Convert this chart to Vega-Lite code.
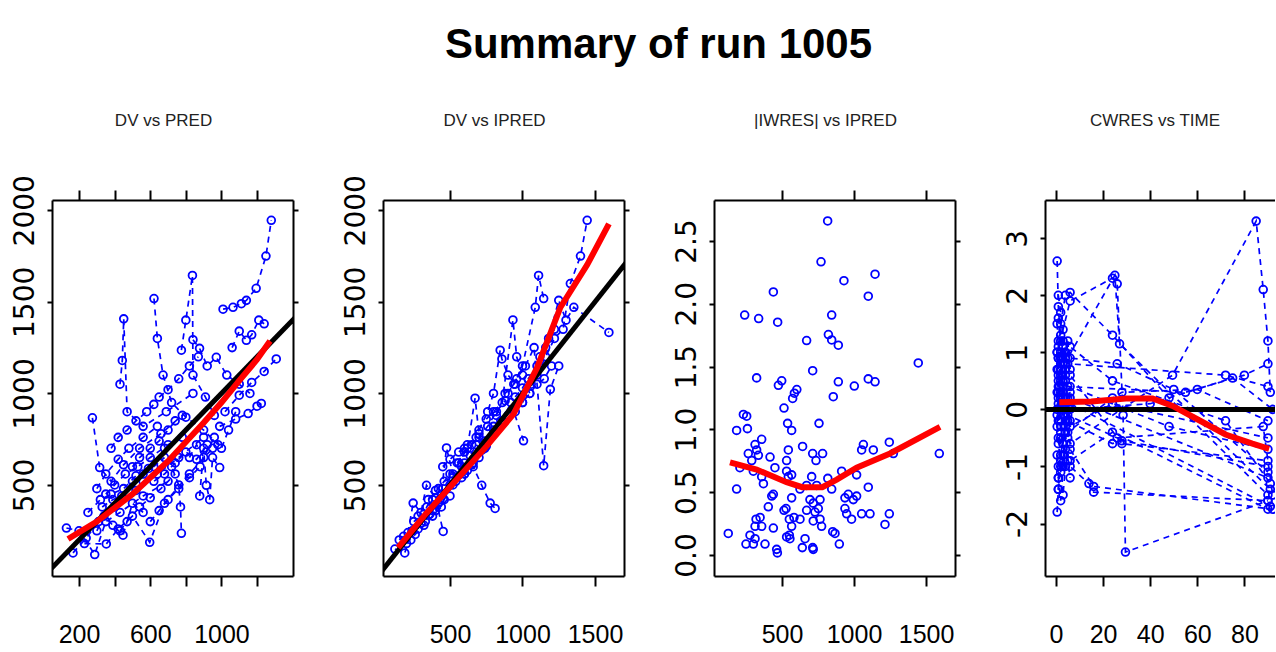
{
"$schema": "https://vega.github.io/schema/vega-lite/v6.json",
"background": "white",
"autosize": {"type": "pad"},
"padding": {"left": 8, "top": 24, "right": 0, "bottom": 0},
"title": {"text": "Summary of run 1005", "font": "Liberation Sans", "fontSize": 42, "fontWeight": "bold", "color": "black", "anchor": "middle", "frame": "bounds", "dx": 17, "offset": 45},
"spacing": 40,
"config": {
  "view": {"stroke": null},
  "axis": {"grid": false, "domainColor": "black", "domainWidth": 2, "tickColor": "black", "tickWidth": 2, "labelColor": "black", "labelOverlap": false, "labelFlush": false, "labelBound": false},
  "axisX": {"tickSize": 10, "labelFont": "Liberation Sans", "labelFontSize": 25, "labelPadding": 36},
  "axisY": {"tickSize": 5, "labelFont": "DejaVu Sans", "labelFontSize": 28, "labelAngle": -90, "labelPadding": 8},
  "title": {"font": "Liberation Sans", "fontSize": 17, "fontWeight": "normal", "color": "#222222", "frame": "group", "offset": 40}
},
"datasets": {
  "diag": [{"x": 0, "y": 0}, {"x": 2500, "y": 2500}],
  "zero": [{"x": -20, "y": 0}, {"x": 120, "y": 0}],
  "lo1": [{"x":138,"y":205},{"x":300,"y":300},{"x":500,"y":450},{"x":700,"y":630},{"x":900,"y":840},{"x":1000,"y":950},{"x":1100,"y":1070},{"x":1200,"y":1185},{"x":1273,"y":1286}],
  "lo2": [{"x":142,"y":158},{"x":320,"y":330},{"x":511,"y":498},{"x":753,"y":712},{"x":938,"y":887},{"x":1100,"y":1139},{"x":1261,"y":1469},{"x":1446,"y":1702},{"x":1596,"y":1926}],
  "lo3": [{"x":139,"y":0.737},{"x":324,"y":0.68},{"x":532,"y":0.58},{"x":640,"y":0.54},{"x":780,"y":0.54},{"x":880,"y":0.6},{"x":1018,"y":0.695},{"x":1250,"y":0.808},{"x":1597,"y":1.02}],
  "lo4": [{"x":1.4,"y":0.125},{"x":15,"y":0.14},{"x":29.7,"y":0.19},{"x":41,"y":0.19},{"x":49.5,"y":0.06},{"x":60.8,"y":-0.19},{"x":72,"y":-0.44},{"x":83.4,"y":-0.6},{"x":90.5,"y":-0.69}],
  "p1": [
{"i":"A","x":166,"y":129},{"i":"A","x":240,"y":210},{"i":"A","x":310,"y":300},{"i":"A","x":400,"y":380},{"i":"A","x":520,"y":470},{"i":"A","x":640,"y":560},{"i":"A","x":760,"y":650},{"i":"A","x":900,"y":760},
{"i":"B","x":129,"y":265},{"i":"B","x":200,"y":250},{"i":"B","x":288,"y":120},{"i":"B","x":350,"y":300},{"i":"B","x":430,"y":350},{"i":"B","x":560,"y":440},{"i":"B","x":700,"y":520},
{"i":"C","x":230,"y":180},{"i":"C","x":353,"y":178},{"i":"C","x":420,"y":260},{"i":"C","x":500,"y":330},{"i":"C","x":597,"y":187},{"i":"C","x":680,"y":400},{"i":"C","x":820,"y":560},{"i":"C","x":950,"y":700},
{"i":"D","x":275,"y":867},{"i":"D","x":316,"y":595},{"i":"D","x":380,"y":520},{"i":"D","x":450,"y":610},{"i":"D","x":540,"y":700},{"i":"D","x":660,"y":780},{"i":"D","x":780,"y":880},
{"i":"E","x":430,"y":1050},{"i":"E","x":443,"y":1180},{"i":"E","x":451,"y":1407},{"i":"E","x":470,"y":900},{"i":"E","x":560,"y":820},{"i":"E","x":690,"y":900},{"i":"E","x":840,"y":1000},
{"i":"F","x":621,"y":1518},{"i":"F","x":640,"y":1300},{"i":"F","x":672,"y":1100},{"i":"F","x":720,"y":950},{"i":"F","x":800,"y":870},{"i":"F","x":900,"y":800},{"i":"F","x":980,"y":720},
{"i":"G","x":775,"y":1236},{"i":"G","x":800,"y":1400},{"i":"G","x":837,"y":1644},{"i":"G","x":840,"y":1100},{"i":"G","x":910,"y":980},{"i":"G","x":960,"y":880},
{"i":"H","x":1009,"y":1460},{"i":"H","x":1065,"y":1470},{"i":"H","x":1112,"y":1490},{"i":"H","x":1140,"y":1508},{"i":"H","x":1195,"y":1574},{"i":"H","x":1250,"y":1750},{"i":"H","x":1280,"y":1945},
{"i":"I","x":840,"y":1293},{"i":"I","x":877,"y":1246},{"i":"I","x":920,"y":1150},{"i":"I","x":971,"y":1197},{"i":"I","x":1030,"y":1100},{"i":"I","x":1100,"y":1050},{"i":"I","x":1160,"y":1000},
{"i":"J","x":1060,"y":1250},{"i":"J","x":1100,"y":1340},{"i":"J","x":1140,"y":1290},{"i":"J","x":1170,"y":1320},{"i":"J","x":1210,"y":1400},{"i":"J","x":1240,"y":1380},
{"i":"K","x":1020,"y":900},{"i":"K","x":1100,"y":990},{"i":"K","x":1170,"y":1060},{"i":"K","x":1240,"y":1120},{"i":"K","x":1308,"y":1188},
{"i":"L","x":990,"y":820},{"i":"L","x":1080,"y":860},{"i":"L","x":1150,"y":890},{"i":"L","x":1200,"y":930},{"i":"L","x":1224,"y":945},
{"i":"M","x":878,"y":440},{"i":"M","x":900,"y":700},{"i":"M","x":915,"y":498},{"i":"M","x":934,"y":420},{"i":"M","x":950,"y":650},{"i":"M","x":990,"y":595},
{"i":"N","x":680,"y":700},{"i":"N","x":720,"y":600},{"i":"N","x":760,"y":500},{"i":"N","x":770,"y":380},{"i":"N","x":775,"y":236},
{"i":"O","x":300,"y":480},{"i":"O","x":350,"y":560},{"i":"O","x":420,"y":640},{"i":"O","x":480,"y":700},{"i":"O","x":560,"y":760},{"i":"O","x":640,"y":820},
{"i":"P","x":350,"y":450},{"i":"P","x":400,"y":500},{"i":"P","x":460,"y":560},{"i":"P","x":530,"y":600},{"i":"P","x":600,"y":650},{"i":"P","x":700,"y":720},{"i":"P","x":780,"y":760},
{"i":"Q","x":250,"y":350},{"i":"Q","x":320,"y":420},{"i":"Q","x":380,"y":450},{"i":"Q","x":450,"y":480},{"i":"Q","x":520,"y":550},{"i":"Q","x":590,"y":590},
{"i":"R","x":430,"y":250},{"i":"R","x":470,"y":300},{"i":"R","x":540,"y":380},{"i":"R","x":600,"y":430},{"i":"R","x":660,"y":480},{"i":"R","x":740,"y":560},
{"i":"S","x":600,"y":300},{"i":"S","x":650,"y":360},{"i":"S","x":700,"y":420},{"i":"S","x":760,"y":480},{"i":"S","x":820,"y":540},{"i":"S","x":880,"y":600},
{"i":"T","x":500,"y":600},{"i":"T","x":540,"y":650},{"i":"T","x":600,"y":700},{"i":"T","x":650,"y":740},{"i":"T","x":700,"y":800},{"i":"T","x":740,"y":850},
{"i":"U","x":380,"y":700},{"i":"U","x":420,"y":760},{"i":"U","x":470,"y":800},{"i":"U","x":520,"y":850},{"i":"U","x":580,"y":900},{"i":"U","x":620,"y":940},
{"i":"V","x":650,"y":980},{"i":"V","x":700,"y":1020},{"i":"V","x":760,"y":1080},{"i":"V","x":820,"y":1150},{"i":"V","x":870,"y":1200},
{"i":"W","x":300,"y":250},{"i":"W","x":340,"y":330},{"i":"W","x":390,"y":280},{"i":"W","x":447,"y":226},{"i":"W","x":500,"y":400},{"i":"W","x":560,"y":350},
{"i":"X","x":820,"y":650},{"i":"X","x":860,"y":720},{"i":"X","x":900,"y":650},{"i":"X","x":960,"y":760},{"i":"X","x":1000,"y":700},{"i":"X","x":1040,"y":800},{"i":"X","x":1080,"y":900},
{"i":"Y","x":330,"y":380},{"i":"Y","x":390,"y":420},{"i":"Y","x":440,"y":440},{"i":"Y","x":500,"y":520},{"i":"Y","x":560,"y":560},{"i":"Y","x":620,"y":600},{"i":"Y","x":680,"y":650},
{"i":"Z","x":560,"y":520},{"i":"Z","x":620,"y":520},{"i":"Z","x":680,"y":560},{"i":"Z","x":740,"y":620},{"i":"Z","x":800,"y":680},{"i":"Z","x":860,"y":640},{"i":"Z","x":920,"y":720}
  ],
  "p2": [
{"i":"a","x":120,"y":150},{"i":"a","x":188,"y":129},{"i":"a","x":240,"y":250},{"i":"a","x":300,"y":290},{"i":"a","x":360,"y":340},{"i":"a","x":420,"y":400},
{"i":"b","x":150,"y":200},{"i":"b","x":210,"y":240},{"i":"b","x":246,"y":401},{"i":"b","x":300,"y":350},{"i":"b","x":338,"y":498},{"i":"b","x":400,"y":430},{"i":"b","x":453,"y":246},
{"i":"c","x":250,"y":300},{"i":"c","x":320,"y":340},{"i":"c","x":380,"y":420},{"i":"c","x":440,"y":450},{"i":"c","x":476,"y":702},{"i":"c","x":520,"y":560},{"i":"c","x":580,"y":600},
{"i":"d","x":280,"y":260},{"i":"d","x":340,"y":380},{"i":"d","x":400,"y":470},{"i":"d","x":460,"y":520},{"i":"d","x":520,"y":540},{"i":"d","x":600,"y":620},{"i":"d","x":660,"y":640},
{"i":"e","x":350,"y":420},{"i":"e","x":420,"y":480},{"i":"e","x":500,"y":560},{"i":"e","x":560,"y":620},{"i":"e","x":620,"y":700},{"i":"e","x":673,"y":974},{"i":"e","x":700,"y":780},
{"i":"f","x":400,"y":360},{"i":"f","x":460,"y":420},{"i":"f","x":520,"y":500},{"i":"f","x":600,"y":560},{"i":"f","x":660,"y":600},{"i":"f","x":719,"y":498},{"i":"f","x":777,"y":401},{"i":"f","x":811,"y":372},
{"i":"g","x":550,"y":620},{"i":"g","x":600,"y":680},{"i":"g","x":650,"y":720},{"i":"g","x":700,"y":760},{"i":"g","x":760,"y":820},{"i":"g","x":820,"y":900},{"i":"g","x":880,"y":960},
{"i":"h","x":600,"y":560},{"i":"h","x":650,"y":610},{"i":"h","x":700,"y":680},{"i":"h","x":750,"y":712},{"i":"h","x":800,"y":800},{"i":"h","x":860,"y":850},{"i":"h","x":920,"y":950},{"i":"h","x":1007,"y":741},
{"i":"i","x":700,"y":800},{"i":"i","x":760,"y":900},{"i":"i","x":800,"y":1000},{"i":"i","x":846,"y":1236},{"i":"i","x":858,"y":1188},{"i":"i","x":900,"y":1100},{"i":"i","x":950,"y":1050},
{"i":"j","x":750,"y":860},{"i":"j","x":800,"y":900},{"i":"j","x":860,"y":950},{"i":"j","x":934,"y":1401},{"i":"j","x":960,"y":1200},{"i":"j","x":1000,"y":1100},{"i":"j","x":1050,"y":1000},
{"i":"k","x":820,"y":880},{"i":"k","x":880,"y":1000},{"i":"k","x":940,"y":1050},{"i":"k","x":1000,"y":1150},{"i":"k","x":1088,"y":1470},{"i":"k","x":1111,"y":1644},{"i":"k","x":1146,"y":1518},
{"i":"l","x":900,"y":1000},{"i":"l","x":960,"y":1080},{"i":"l","x":1020,"y":1150},{"i":"l","x":1080,"y":1250},{"i":"l","x":1146,"y":605},{"i":"l","x":1192,"y":1022},{"i":"l","x":1250,"y":1150},
{"i":"m","x":1000,"y":950},{"i":"m","x":1060,"y":1050},{"i":"m","x":1120,"y":1200},{"i":"m","x":1180,"y":1300},{"i":"m","x":1250,"y":1508},{"i":"m","x":1300,"y":1400},{"i":"m","x":1354,"y":1470},{"i":"m","x":1596,"y":1333},
{"i":"n","x":1100,"y":1100},{"i":"n","x":1160,"y":1200},{"i":"n","x":1220,"y":1300},{"i":"n","x":1280,"y":1350},{"i":"n","x":1330,"y":1600},{"i":"n","x":1400,"y":1750},{"i":"n","x":1446,"y":1945},
{"i":"o","x":500,"y":500},{"i":"o","x":540,"y":520},{"i":"o","x":580,"y":540},{"i":"o","x":620,"y":580},{"i":"o","x":660,"y":620},{"i":"o","x":700,"y":650},{"i":"o","x":740,"y":700},
{"i":"p","x":200,"y":180},{"i":"p","x":260,"y":230},{"i":"p","x":320,"y":280},{"i":"p","x":380,"y":330},{"i":"p","x":440,"y":380},{"i":"p","x":500,"y":440},
{"i":"q","x":450,"y":600},{"i":"q","x":500,"y":640},{"i":"q","x":560,"y":680},{"i":"q","x":620,"y":720},{"i":"q","x":680,"y":760},{"i":"q","x":740,"y":740},{"i":"q","x":800,"y":780},
{"i":"r","x":850,"y":850},{"i":"r","x":900,"y":880},{"i":"r","x":950,"y":900},{"i":"r","x":1000,"y":950},{"i":"r","x":1050,"y":1000},{"i":"r","x":1100,"y":1050},{"i":"r","x":1150,"y":1080},{"i":"r","x":1200,"y":1150},
{"i":"s","x":180,"y":220},{"i":"s","x":230,"y":200},{"i":"s","x":280,"y":330},{"i":"s","x":330,"y":300},{"i":"s","x":380,"y":360},{"i":"s","x":430,"y":410},
{"i":"t","x":600,"y":700},{"i":"t","x":640,"y":660},{"i":"t","x":680,"y":720},{"i":"t","x":720,"y":690},{"i":"t","x":760,"y":740},{"i":"t","x":800,"y":820},
{"i":"u","x":950,"y":980},{"i":"u","x":1000,"y":1030},{"i":"u","x":1040,"y":1080},{"i":"u","x":1100,"y":1150},{"i":"u","x":1160,"y":1250},{"i":"u","x":1220,"y":1350}
  ],
  "p3": [
{"x":817,"y":2.659},{"x":771,"y":2.334},{"x":930,"y":2.184},{"x":1146,"y":2.235},{"x":1099,"y":2.06},{"x":440,"y":2.094},{"x":241,"y":1.91},{"x":338,"y":1.882},{"x":470,"y":1.853},{"x":845,"y":1.91},
{"x":822,"y":1.755},{"x":845,"y":1.712},{"x":891,"y":1.67},{"x":671,"y":1.707},{"x":713,"y":1.467},{"x":1446,"y":1.529},{"x":324,"y":1.41},{"x":475,"y":1.351},{"x":498,"y":1.387},{"x":891,"y":1.379},
{"x":1002,"y":1.345},{"x":1099,"y":1.402},{"x":1146,"y":1.379},{"x":856,"y":1.26},{"x":586,"y":1.288},{"x":603,"y":1.317},{"x":574,"y":1.246},{"x":514,"y":1.17},{"x":539,"y":1.048},{"x":567,"y":0.992},
{"x":757,"y":1.048},{"x":232,"y":1.119},{"x":255,"y":1.105},{"x":260,"y":1.006},{"x":185,"y":0.992},{"x":359,"y":0.921},{"x":313,"y":0.879},{"x":324,"y":0.836},{"x":266,"y":0.808},{"x":290,"y":0.752},
{"x":336,"y":0.794},{"x":417,"y":0.78},{"x":208,"y":0.695},{"x":451,"y":0.695},{"x":532,"y":0.752},{"x":544,"y":0.836},{"x":643,"y":0.864},{"x":713,"y":0.808},{"x":782,"y":0.808},{"x":736,"y":0.752},
{"x":532,"y":0.667},{"x":544,"y":0.624},{"x":567,"y":0.638},{"x":706,"y":0.624},{"x":914,"y":0.667},{"x":1018,"y":0.638},{"x":1053,"y":0.836},{"x":1065,"y":0.879},{"x":1134,"y":0.836},{"x":1245,"y":0.898},
{"x":1273,"y":0.808},{"x":1592,"y":0.808},{"x":185,"y":0.525},{"x":359,"y":0.624},{"x":301,"y":0.667},{"x":371,"y":0.568},{"x":429,"y":0.469},{"x":440,"y":0.483},{"x":567,"y":0.455},{"x":625,"y":0.525},
{"x":671,"y":0.554},{"x":741,"y":0.554},{"x":818,"y":0.61},{"x":845,"y":0.525},{"x":937,"y":0.455},{"x":960,"y":0.483},{"x":1018,"y":0.469},{"x":1099,"y":0.54},{"x":405,"y":0.384},{"x":320,"y":0.285},
{"x":348,"y":0.299},{"x":313,"y":0.229},{"x":359,"y":0.229},{"x":440,"y":0.215},{"x":514,"y":0.356},{"x":528,"y":0.37},{"x":583,"y":0.299},{"x":567,"y":0.229},{"x":551,"y":0.158},{"x":555,"y":0.13},
{"x":625,"y":0.285},{"x":671,"y":0.356},{"x":694,"y":0.441},{"x":717,"y":0.413},{"x":729,"y":0.342},{"x":752,"y":0.37},{"x":764,"y":0.441},{"x":717,"y":0.271},{"x":764,"y":0.285},{"x":775,"y":0.229},
{"x":852,"y":0.186},{"x":868,"y":0.172},{"x":898,"y":0.087},{"x":937,"y":0.37},{"x":949,"y":0.328},{"x":983,"y":0.285},{"x":995,"y":0.441},{"x":1053,"y":0.328},{"x":1111,"y":0.328},{"x":1215,"y":0.243},
{"x":1245,"y":0.328},{"x":127,"y":0.172},{"x":250,"y":0.087},{"x":301,"y":0.087},{"x":313,"y":0.13},{"x":382,"y":0.087},{"x":463,"y":0.045},{"x":468,"y":0.017},{"x":532,"y":0.144},{"x":641,"y":0.059},
{"x":713,"y":0.059},{"x":717,"y":0.045},{"x":660,"y":0.13},{"x":551,"y":0.285},{"x":278,"y":0.158}
  ],
  "p4": [
{"i":"1","x":0.5,"y":2.6},{"i":"1","x":1,"y":1.8},{"i":"1","x":2,"y":1.2},{"i":"1","x":4,"y":0.6},{"i":"1","x":6,"y":0.2},{"i":"1","x":90,"y":-1.2},
{"i":"2","x":0.5,"y":-1.8},{"i":"2","x":1,"y":-1.4},{"i":"2","x":2,"y":-0.9},{"i":"2","x":4,"y":-0.3},{"i":"2","x":6,"y":0.1},{"i":"2","x":91,"y":-1.7},
{"i":"3","x":1,"y":0.9},{"i":"3","x":2,"y":1.5},{"i":"3","x":4,"y":2.0},{"i":"3","x":6,"y":2.05},{"i":"3","x":24,"y":1.3},{"i":"3","x":48,"y":0.2},{"i":"3","x":90,"y":-1.5},
{"i":"4","x":1,"y":-0.5},{"i":"4","x":2,"y":-1.1},{"i":"4","x":3,"y":-0.8},{"i":"4","x":5,"y":-0.2},{"i":"4","x":24,"y":-0.6},{"i":"4","x":28,"y":-0.55},{"i":"4","x":90,"y":-1.0},
{"i":"5","x":1,"y":1.2},{"i":"5","x":2,"y":0.8},{"i":"5","x":3,"y":0.5},{"i":"5","x":5,"y":0.9},{"i":"5","x":25,"y":2.35},{"i":"5","x":27,"y":1.15},{"i":"5","x":91,"y":-1.4},
{"i":"6","x":0.5,"y":0.3},{"i":"6","x":1.5,"y":-0.2},{"i":"6","x":3,"y":-0.6},{"i":"6","x":6,"y":-1.0},{"i":"6","x":14,"y":-1.3},{"i":"6","x":16,"y":-1.45},{"i":"6","x":90,"y":-1.6},
{"i":"7","x":1,"y":0.4},{"i":"7","x":2,"y":1.0},{"i":"7","x":3,"y":1.4},{"i":"7","x":6,"y":1.9},{"i":"7","x":24,"y":2.3},{"i":"7","x":26,"y":2.2},{"i":"7","x":28.5,"y":-0.1},{"i":"7","x":29.5,"y":-2.5},{"i":"7","x":90,"y":-1.6},
{"i":"8","x":0.5,"y":1.0},{"i":"8","x":1,"y":0.6},{"i":"8","x":2,"y":0.3},{"i":"8","x":4,"y":-0.2},{"i":"8","x":6,"y":-0.6},{"i":"8","x":49.5,"y":0.6},{"i":"8","x":85,"y":3.3},{"i":"8","x":88,"y":2.1},{"i":"8","x":90,"y":1.2},{"i":"8","x":91,"y":0.3},
{"i":"9","x":1,"y":-1.0},{"i":"9","x":2,"y":-0.5},{"i":"9","x":4,"y":0.0},{"i":"9","x":6,"y":0.4},{"i":"9","x":48,"y":-0.3},{"i":"9","x":90,"y":-0.7},
{"i":"10","x":0.5,"y":0.0},{"i":"10","x":1,"y":0.5},{"i":"10","x":2,"y":0.9},{"i":"10","x":3,"y":1.1},{"i":"10","x":5,"y":0.8},{"i":"10","x":72,"y":0.6},{"i":"10","x":90,"y":0.4},
{"i":"11","x":1,"y":-0.2},{"i":"11","x":2,"y":0.2},{"i":"11","x":3,"y":-0.1},{"i":"11","x":5,"y":-0.4},{"i":"11","x":24,"y":0.2},{"i":"11","x":28,"y":0.3},{"i":"11","x":60,"y":0.35},{"i":"11","x":90,"y":-0.2},
{"i":"12","x":1,"y":1.6},{"i":"12","x":2,"y":1.3},{"i":"12","x":4,"y":1.0},{"i":"12","x":6,"y":0.9},{"i":"12","x":26,"y":0.8},{"i":"12","x":50,"y":0.35},{"i":"12","x":90,"y":-1.1},
{"i":"13","x":1,"y":-1.4},{"i":"13","x":2,"y":-1.0},{"i":"13","x":4,"y":-0.7},{"i":"13","x":6,"y":-0.9},{"i":"13","x":24,"y":-0.4},{"i":"13","x":90,"y":-1.75},
{"i":"14","x":0.5,"y":0.7},{"i":"14","x":1,"y":0.2},{"i":"14","x":2,"y":-0.3},{"i":"14","x":3,"y":-0.6},{"i":"14","x":6,"y":0.0},{"i":"14","x":40,"y":0.1},{"i":"14","x":75,"y":0.55},{"i":"14","x":92,"y":0.0},
{"i":"15","x":1,"y":2.0},{"i":"15","x":2,"y":1.7},{"i":"15","x":3,"y":1.2},{"i":"15","x":4,"y":0.9},{"i":"15","x":6,"y":1.1},{"i":"15","x":24,"y":0.5},{"i":"15","x":72,"y":-0.2},{"i":"15","x":91,"y":-1.3},
{"i":"16","x":0.5,"y":-0.8},{"i":"16","x":1,"y":-1.2},{"i":"16","x":2,"y":-1.6},{"i":"16","x":3,"y":-1.0},{"i":"16","x":6,"y":-0.7},{"i":"16","x":16,"y":-1.35},{"i":"16","x":92,"y":-1.75},
{"i":"17","x":1,"y":0.1},{"i":"17","x":2,"y":0.5},{"i":"17","x":3,"y":0.8},{"i":"17","x":4,"y":1.0},{"i":"17","x":6,"y":0.6},{"i":"17","x":28,"y":-0.6},{"i":"17","x":90,"y":-0.9},
{"i":"18","x":1,"y":0.9},{"i":"18","x":2,"y":0.6},{"i":"18","x":3,"y":0.2},{"i":"18","x":5,"y":-0.1},{"i":"18","x":26,"y":-0.5},{"i":"18","x":88,"y":-0.3},{"i":"18","x":92,"y":-1.5},
{"i":"19","x":2,"y":0.0},{"i":"19","x":3,"y":0.3},{"i":"19","x":4,"y":0.7},{"i":"19","x":5,"y":0.4},{"i":"19","x":55,"y":0.3},{"i":"19","x":80,"y":0.6},{"i":"19","x":90,"y":0.8},
{"i":"20","x":0.5,"y":-0.3},{"i":"20","x":1,"y":0.3},{"i":"20","x":2,"y":0.7},{"i":"20","x":4,"y":0.2},{"i":"20","x":6,"y":-0.3},{"i":"20","x":24,"y":0.1},{"i":"20","x":90,"y":-0.5},
{"i":"21","x":0.5,"y":1.0},{"i":"21","x":1,"y":0.7},{"i":"21","x":1.5,"y":0.4},{"i":"21","x":2,"y":0.9},{"i":"21","x":3,"y":1.1},{"i":"21","x":4,"y":0.5},{"i":"21","x":5,"y":0.2},{"i":"21","x":6,"y":-0.2},
{"i":"22","x":0.5,"y":-0.1},{"i":"22","x":1,"y":-0.6},{"i":"22","x":2,"y":-0.4},{"i":"22","x":3,"y":0.1},{"i":"22","x":4,"y":0.8},{"i":"22","x":5,"y":1.2},{"i":"22","x":6,"y":0.7},
{"i":"23","x":0.5,"y":1.5},{"i":"23","x":1,"y":1.1},{"i":"23","x":2,"y":0.7},{"i":"23","x":3,"y":0.3},{"i":"23","x":4,"y":-0.4},{"i":"23","x":5,"y":-0.9},{"i":"23","x":6,"y":-1.2},
{"i":"24","x":1,"y":-1.2},{"i":"24","x":2,"y":-0.8},{"i":"24","x":3,"y":-1.5},{"i":"24","x":4,"y":-1.0},{"i":"24","x":5,"y":-0.5},{"i":"24","x":6,"y":0.3}
  ]
},
"hconcat": [
 {
  "width": 241, "height": 376,
  "title": {"text": "DV vs PRED", "dx": -9},
  "resolve": {"axis": {"x": "independent", "y": "independent"}},
  "layer": [
   {"data": {"name": "p1"}, "mark": {"type": "line", "color": "#0000ff", "strokeWidth": 1.7, "strokeDash": [6, 5], "clip": true},
    "encoding": {
     "x": {"field": "x", "type": "quantitative", "scale": {"domain": [48, 1402], "nice": false, "zero": false}, "axis": {"orient": "bottom", "title": null, "values": [200, 400, 600, 800, 1000, 1200], "format": "d", "labelExpr": "datum.value == 400 || datum.value == 800 || datum.value == 1200 ? '' : datum.label", "minExtent": 75, "maxExtent": 75}},
     "y": {"field": "y", "type": "quantitative", "scale": {"domain": [3, 2056], "nice": false, "zero": false}, "axis": {"orient": "left", "title": null, "values": [500, 1000, 1500, 2000], "format": "d", "minExtent": 44, "maxExtent": 44}},
     "detail": {"field": "i"}}},
   {"data": {"name": "p1"}, "mark": {"type": "point", "shape": "circle", "filled": false, "color": "#0000ff", "size": 60, "strokeWidth": 1.8, "opacity": 1, "clip": true},
    "encoding": {
     "x": {"field": "x", "type": "quantitative", "scale": {"domain": [48, 1402], "nice": false, "zero": false}, "axis": {"orient": "top", "title": null, "values": [200, 400, 600, 800, 1000, 1200], "labels": false, "minExtent": 30, "maxExtent": 30}},
     "y": {"field": "y", "type": "quantitative", "scale": {"domain": [3, 2056], "nice": false, "zero": false}, "axis": {"orient": "right", "title": null, "values": [500, 1000, 1500, 2000], "labels": false, "minExtent": 6, "maxExtent": 6}}}},
   {"data": {"name": "diag"}, "mark": {"type": "line", "color": "black", "strokeWidth": 5, "clip": true},
    "encoding": {"x": {"field": "x", "type": "quantitative", "scale": {"domain": [48, 1402], "nice": false, "zero": false}, "axis": null}, "y": {"field": "y", "type": "quantitative", "scale": {"domain": [3, 2056], "nice": false, "zero": false}, "axis": null}}},
   {"data": {"name": "lo1"}, "mark": {"type": "line", "color": "#ff0000", "strokeWidth": 6, "clip": true},
    "encoding": {"x": {"field": "x", "type": "quantitative", "scale": {"domain": [48, 1402], "nice": false, "zero": false}, "axis": null}, "y": {"field": "y", "type": "quantitative", "scale": {"domain": [3, 2056], "nice": false, "zero": false}, "axis": null}}}
  ]
 },
 {
  "width": 241, "height": 376,
  "title": {"text": "DV vs IPRED", "dx": -9},
  "resolve": {"axis": {"x": "independent", "y": "independent"}},
  "layer": [
   {"data": {"name": "p2"}, "mark": {"type": "line", "color": "#0000ff", "strokeWidth": 1.7, "strokeDash": [6, 5], "clip": true},
    "encoding": {
     "x": {"field": "x", "type": "quantitative", "scale": {"domain": [38, 1700], "nice": false, "zero": false}, "axis": {"orient": "bottom", "title": null, "values": [500, 1000, 1500], "format": "d", "minExtent": 75, "maxExtent": 75}},
     "y": {"field": "y", "type": "quantitative", "scale": {"domain": [3, 2056], "nice": false, "zero": false}, "axis": {"orient": "left", "title": null, "values": [500, 1000, 1500, 2000], "format": "d", "minExtent": 44, "maxExtent": 44}},
     "detail": {"field": "i"}}},
   {"data": {"name": "p2"}, "mark": {"type": "point", "shape": "circle", "filled": false, "color": "#0000ff", "size": 60, "strokeWidth": 1.8, "opacity": 1, "clip": true},
    "encoding": {
     "x": {"field": "x", "type": "quantitative", "scale": {"domain": [38, 1700], "nice": false, "zero": false}, "axis": {"orient": "top", "title": null, "values": [500, 1000, 1500], "labels": false, "minExtent": 30, "maxExtent": 30}},
     "y": {"field": "y", "type": "quantitative", "scale": {"domain": [3, 2056], "nice": false, "zero": false}, "axis": {"orient": "right", "title": null, "values": [500, 1000, 1500, 2000], "labels": false, "minExtent": 6, "maxExtent": 6}}}},
   {"data": {"name": "diag"}, "mark": {"type": "line", "color": "black", "strokeWidth": 5, "clip": true},
    "encoding": {"x": {"field": "x", "type": "quantitative", "scale": {"domain": [38, 1700], "nice": false, "zero": false}, "axis": null}, "y": {"field": "y", "type": "quantitative", "scale": {"domain": [3, 2056], "nice": false, "zero": false}, "axis": null}}},
   {"data": {"name": "lo2"}, "mark": {"type": "line", "color": "#ff0000", "strokeWidth": 6, "clip": true},
    "encoding": {"x": {"field": "x", "type": "quantitative", "scale": {"domain": [38, 1700], "nice": false, "zero": false}, "axis": null}, "y": {"field": "y", "type": "quantitative", "scale": {"domain": [3, 2056], "nice": false, "zero": false}, "axis": null}}}
  ]
 },
 {
  "width": 241, "height": 376,
  "title": {"text": "|IWRES| vs IPRED", "dx": -9},
  "resolve": {"axis": {"x": "independent", "y": "independent"}},
  "layer": [
   {"data": {"name": "p3"}, "mark": {"type": "point", "shape": "circle", "filled": false, "color": "#0000ff", "size": 60, "strokeWidth": 1.8, "opacity": 1, "clip": true},
    "encoding": {
     "x": {"field": "x", "type": "quantitative", "scale": {"domain": [28, 1701], "nice": false, "zero": false}, "axis": {"orient": "bottom", "title": null, "values": [500, 1000, 1500], "format": "d", "minExtent": 75, "maxExtent": 75}},
     "y": {"field": "y", "type": "quantitative", "scale": {"domain": [-0.167, 2.826], "nice": false, "zero": false}, "axis": {"orient": "left", "title": null, "values": [0, 0.5, 1, 1.5, 2, 2.5], "format": ".1f", "minExtent": 44, "maxExtent": 44}}}},
   {"data": {"name": "lo3"}, "mark": {"type": "line", "color": "#ff0000", "strokeWidth": 6, "clip": true},
    "encoding": {
     "x": {"field": "x", "type": "quantitative", "scale": {"domain": [28, 1701], "nice": false, "zero": false}, "axis": {"orient": "top", "title": null, "values": [500, 1000, 1500], "labels": false, "minExtent": 30, "maxExtent": 30}},
     "y": {"field": "y", "type": "quantitative", "scale": {"domain": [-0.167, 2.826], "nice": false, "zero": false}, "axis": {"orient": "right", "title": null, "values": [0, 0.5, 1, 1.5, 2, 2.5], "labels": false, "minExtent": 6, "maxExtent": 6}}}}
  ]
 },
 {
  "width": 230, "height": 376,
  "title": {"text": "CWRES vs TIME", "dx": -5},
  "resolve": {"axis": {"x": "independent", "y": "independent"}},
  "layer": [
   {"data": {"name": "p4"}, "mark": {"type": "line", "color": "#0000ff", "strokeWidth": 1.7, "strokeDash": [6, 5], "clip": true},
    "encoding": {
     "x": {"field": "x", "type": "quantitative", "scale": {"domain": [-4.66, 93], "nice": false, "zero": false}, "axis": {"orient": "bottom", "title": null, "values": [0, 20, 40, 60, 80], "format": "d", "minExtent": 75, "maxExtent": 75}},
     "y": {"field": "y", "type": "quantitative", "scale": {"domain": [-2.92, 3.67], "nice": false, "zero": false}, "axis": {"orient": "left", "title": null, "values": [-2, -1, 0, 1, 2, 3], "labelExpr": "'' + datum.value", "minExtent": 44, "maxExtent": 44}},
     "detail": {"field": "i"}}},
   {"data": {"name": "p4"}, "mark": {"type": "point", "shape": "circle", "filled": false, "color": "#0000ff", "size": 60, "strokeWidth": 1.8, "opacity": 1, "clip": true},
    "encoding": {
     "x": {"field": "x", "type": "quantitative", "scale": {"domain": [-4.66, 93], "nice": false, "zero": false}, "axis": {"orient": "top", "title": null, "values": [0, 20, 40, 60, 80], "labels": false, "minExtent": 30, "maxExtent": 30}},
     "y": {"field": "y", "type": "quantitative", "scale": {"domain": [-2.92, 3.67], "nice": false, "zero": false}, "axis": null}}},
   {"data": {"name": "zero"}, "mark": {"type": "line", "color": "black", "strokeWidth": 5, "clip": true},
    "encoding": {"x": {"field": "x", "type": "quantitative", "scale": {"domain": [-4.66, 93], "nice": false, "zero": false}, "axis": null}, "y": {"field": "y", "type": "quantitative", "scale": {"domain": [-2.92, 3.67], "nice": false, "zero": false}, "axis": null}}},
   {"data": {"name": "lo4"}, "mark": {"type": "line", "color": "#ff0000", "strokeWidth": 6, "clip": true},
    "encoding": {"x": {"field": "x", "type": "quantitative", "scale": {"domain": [-4.66, 93], "nice": false, "zero": false}, "axis": null}, "y": {"field": "y", "type": "quantitative", "scale": {"domain": [-2.92, 3.67], "nice": false, "zero": false}, "axis": null}}}
  ]
 }
]
}
